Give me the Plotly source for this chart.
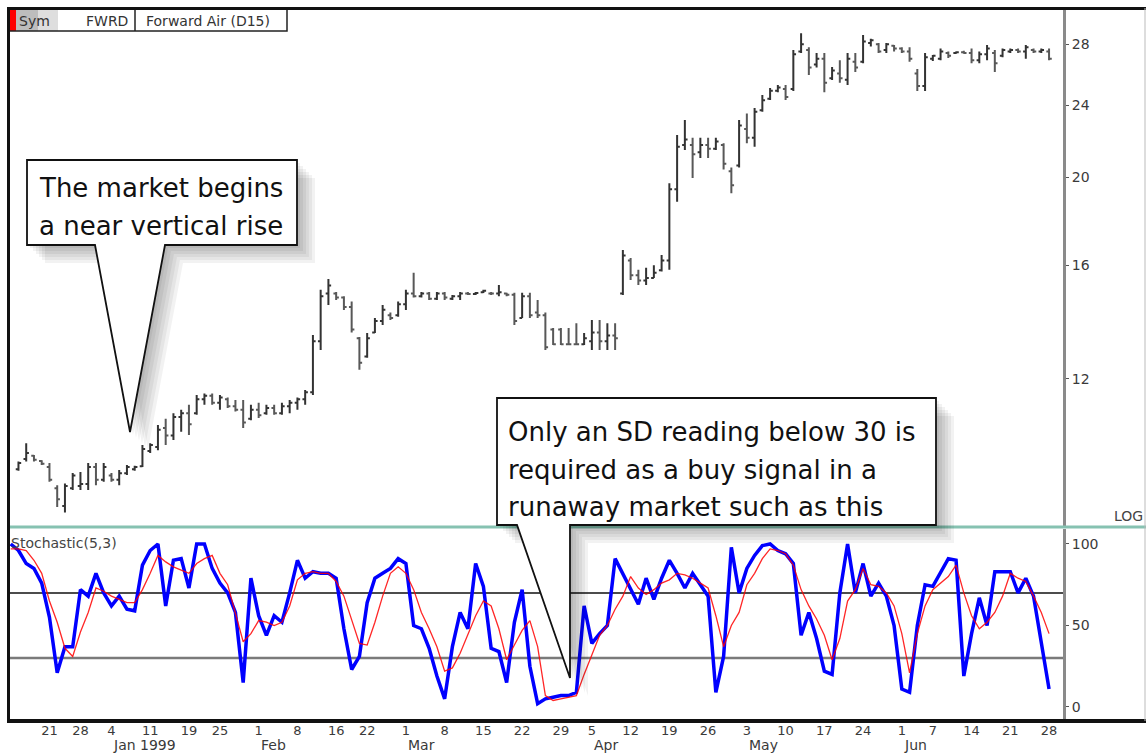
import math
import plotly.graph_objects as go

W, H = 1146, 753

# trading-day index (0 = Mon 21 Dec 1998), holidays skipped
bar_day = list(range(-4, 130))
bar_open = [9.55, 9.80, 9.88, 9.75, 9.60, 9.10, 8.70, 9.10, 9.15, 9.20,
            9.60, 9.30, 9.40, 9.30, 9.45, 9.55, 9.62, 10.00, 10.10, 10.60,
            10.40, 10.90, 11.00, 11.00, 11.40, 11.50, 11.30, 11.40, 11.20, 11.10,
            10.85, 11.10, 11.00, 11.15, 11.00, 11.20, 11.30, 11.40, 11.60, 13.20,
            14.90, 14.90, 14.75, 14.40, 13.30, 12.70, 13.50, 13.90, 14.10, 14.10,
            14.50, 14.90, 14.80, 14.90, 14.70, 14.90, 14.70, 14.80, 14.90, 14.88,
            14.95, 14.90, 14.90, 14.90, 14.85, 14.00, 14.80, 14.20, 14.10, 13.60,
            13.60, 13.10, 13.10, 13.10, 13.20, 13.50, 13.20, 13.40, 14.90, 16.20,
            15.60, 15.40, 15.50, 15.80, 16.20, 19.40, 21.70, 21.70, 21.30, 21.70,
            21.50, 21.70, 20.30, 20.60, 22.60, 22.10, 23.70, 24.40, 24.90, 25.00,
            25.00, 27.50, 27.60, 26.60, 27.00, 25.70, 26.00, 25.60, 26.80, 26.80,
            28.10, 28.00, 27.60, 27.90, 27.70, 27.50, 26.00, 25.20, 27.00, 27.00,
            27.40, 27.40, 27.45, 27.40, 26.90, 27.30, 27.40, 27.20, 27.50, 27.60,
            27.50, 27.60, 27.50, 27.50]
bar_high = [9.74, 10.20, 9.90, 9.77, 9.70, 9.17, 9.21, 9.46, 9.48, 9.70,
            9.70, 9.70, 9.46, 9.53, 9.65, 9.63, 10.15, 10.20, 10.68, 10.85,
            11.00, 11.10, 11.24, 11.52, 11.57, 11.57, 11.52, 11.45, 11.38, 11.38,
            11.24, 11.30, 11.24, 11.24, 11.30, 11.38, 11.45, 11.67, 13.41, 15.04,
            15.46, 14.96, 14.80, 14.60, 13.35, 13.48, 14.00, 14.47, 14.20, 14.60,
            15.04, 15.70, 14.96, 14.96, 14.96, 14.96, 14.84, 14.96, 14.96, 14.96,
            15.04, 14.96, 15.22, 14.93, 14.93, 14.93, 14.93, 14.66, 14.20, 13.65,
            13.65, 13.65, 13.82, 13.48, 13.93, 13.93, 13.82, 13.82, 16.64, 16.30,
            15.82, 15.90, 16.00, 16.43, 19.70, 22.26, 23.12, 22.10, 22.10, 22.10,
            22.10, 21.80, 20.50, 23.12, 23.50, 23.83, 24.63, 25.07, 25.26, 25.26,
            27.60, 28.80, 27.80, 27.40, 27.40, 26.44, 26.90, 27.40, 27.40, 28.67,
            28.40, 28.10, 28.10, 27.95, 27.80, 27.80, 26.30, 27.40, 27.25, 27.70,
            27.50, 27.50, 27.55, 27.70, 27.50, 27.95, 27.60, 27.70, 27.70, 27.70,
            27.95, 27.70, 27.70, 27.70]
bar_low = [9.51, 9.74, 9.74, 9.65, 9.25, 8.68, 8.56, 9.06, 9.06, 9.06,
           9.17, 9.25, 9.25, 9.17, 9.41, 9.51, 9.60, 9.95, 10.02, 10.15,
           10.28, 10.50, 10.41, 10.96, 11.24, 11.24, 11.10, 11.15, 11.05, 10.60,
           10.81, 10.87, 10.96, 10.96, 10.96, 11.00, 11.10, 11.24, 11.52, 12.91,
           14.47, 14.66, 14.29, 13.50, 12.28, 12.66, 13.48, 13.76, 13.93, 14.05,
           14.29, 14.75, 14.75, 14.66, 14.66, 14.66, 14.66, 14.66, 14.84, 14.84,
           14.92, 14.84, 14.80, 14.80, 13.76, 14.00, 14.00, 14.00, 12.91, 13.08,
           13.08, 13.08, 13.08, 13.08, 12.91, 12.91, 12.91, 12.91, 14.84, 15.42,
           15.22, 15.22, 15.50, 15.75, 15.82, 18.80, 21.43, 19.96, 21.00, 21.00,
           21.43, 20.40, 19.20, 20.50, 21.80, 21.60, 23.60, 24.32, 24.80, 24.32,
           24.88, 27.40, 25.91, 26.40, 24.80, 25.58, 25.40, 25.26, 26.10, 26.70,
           27.85, 27.40, 27.40, 27.50, 27.40, 26.80, 24.88, 24.88, 26.84, 26.90,
           27.05, 27.35, 27.35, 26.70, 26.70, 26.90, 26.10, 27.10, 27.40, 27.40,
           27.00, 27.40, 27.40, 26.90]
bar_close = [9.70, 9.95, 9.78, 9.68, 9.30, 8.85, 9.15, 9.40, 9.20, 9.60,
             9.30, 9.60, 9.30, 9.45, 9.60, 9.60, 10.05, 10.15, 10.55, 10.40,
             10.90, 11.00, 10.70, 11.40, 11.50, 11.30, 11.45, 11.20, 11.10, 10.75,
             11.10, 10.95, 11.15, 11.00, 11.20, 11.30, 11.40, 11.60, 13.20, 14.80,
             15.20, 14.75, 14.40, 13.60, 12.50, 13.30, 13.90, 14.30, 14.00, 14.50,
             14.90, 14.80, 14.90, 14.70, 14.90, 14.75, 14.80, 14.90, 14.88, 14.92,
             15.00, 14.90, 14.95, 14.85, 13.90, 14.80, 14.10, 14.10, 13.00, 13.10,
             13.10, 13.10, 13.10, 13.30, 13.50, 13.20, 13.40, 13.30, 16.40, 15.60,
             15.40, 15.50, 15.70, 16.20, 19.40, 21.60, 22.00, 21.20, 21.70, 21.50,
             21.90, 20.70, 19.60, 22.80, 22.10, 23.60, 24.30, 24.90, 25.10, 24.50,
             27.30, 28.00, 26.40, 27.00, 25.40, 26.20, 25.70, 27.00, 26.40, 28.20,
             28.30, 27.50, 28.00, 27.70, 27.50, 27.00, 25.20, 27.10, 27.20, 27.50,
             27.20, 27.45, 27.40, 26.90, 27.30, 27.70, 26.70, 27.60, 27.60, 27.50,
             27.80, 27.50, 27.60, 27.00]

stoch_day = list(range(-5, 130))
pct_k = [100, 96, 88, 85, 76, 55, 21, 37, 37, 72,
         68, 82, 70, 62, 68, 60, 59, 87, 96, 100,
         62, 90, 91, 73, 100, 100, 85, 76, 70, 58,
         15, 79, 56, 44, 56, 52, 70, 90, 79, 83,
         82, 82, 79, 48, 23, 31, 64, 79, 82, 85,
         91, 88, 50, 48, 36, 19, 5, 37, 58, 48,
         88, 74, 36, 34, 15, 52, 72, 25, 2, 5,
         6, 7, 7, 9, 62, 39, 45, 50, 91, 82,
         73, 63, 79, 66, 79, 90, 82, 73, 82, 75,
         68, 9, 31, 98, 70, 85, 93, 99, 100, 96,
         94, 88, 44, 58, 42, 22, 20, 70, 100, 70,
         88, 68, 76, 68, 50, 11, 9, 50, 75, 74,
         83, 91, 90, 19, 45, 67, 50, 83, 83, 83,
         70, 79, 68, 40, 11]
pct_d = [97, 97, 96, 90, 82, 65, 52, 36, 31, 46,
         58, 73, 71, 68, 66, 64, 64, 72, 82, 93,
         89, 86, 84, 82, 88, 91, 93, 82, 75, 58,
         40, 45, 53, 52, 50, 52, 62, 78, 82, 83,
         82, 82, 77, 68, 54, 39, 38, 52, 68, 82,
         86, 82, 72, 58, 48, 37, 22, 24, 33, 45,
         56, 65, 62, 48, 29, 38, 47, 53, 37, 7,
         4, 5, 6, 7, 20, 32, 44, 50, 60, 68,
         80, 73, 69, 72, 76, 78, 82, 81, 79, 76,
         73, 56, 37, 50, 58, 75, 82, 91, 97, 96,
         94, 87, 72, 62, 54, 44, 29, 42, 65, 72,
         85, 75, 74, 70, 62, 45, 21, 45, 62, 72,
         76, 80, 87, 70, 56, 48, 52, 58, 68, 82,
         79, 77, 68, 58, 45]

tick_day = [0, 4, 8, 13, 18, 22, 27, 32, 37, 41, 46, 51, 56, 61, 66,
            70, 75, 80, 85, 90, 95, 100, 105, 110, 114, 119, 124, 129]
tick_text = ['21', '28', '4', '11', '19', '25', '1', '8', '16', '22', '1', '8', '15', '22', '29',
             '5', '12', '19', '26', '3', '10', '17', '24', '1', '7', '14', '21', '28']
month_day = [8, 27, 46, 70, 90, 110]
month_text = ['Jan 1999', 'Feb', 'Mar', 'Apr', 'May', 'Jun']

price_ticks = [12, 16, 20, 24, 28]
stoch_ticks = [0, 50, 100]


def px(x):
    return x / W


def py(y):
    return 1 - y / H


def poly(points, dx=0, dy=0):
    return 'M ' + ' L '.join(f'{px(x + dx):.5f},{py(y + dy):.5f}' for x, y in points) + ' Z'


LABEL = '#3a3a3a'
SMALL = dict(family='DejaVu Sans', size=13, color=LABEL)
AXIS = dict(family='DejaVu Sans', size=14, color=LABEL)

fig = go.Figure()

fig.add_trace(go.Ohlc(x=bar_day, open=bar_open, high=bar_high, low=bar_low, close=bar_close,
                      xaxis='x', yaxis='y', tickwidth=0.35,
                      increasing=dict(line=dict(color='#333333', width=2)),
                      decreasing=dict(line=dict(color='#585858', width=2)),
                      showlegend=False))

fig.add_trace(go.Scatter(x=stoch_day, y=pct_k, mode='lines', xaxis='x2', yaxis='y2',
                         line=dict(color='#0000ff', width=3.5), showlegend=False))
fig.add_trace(go.Scatter(x=stoch_day, y=pct_d, mode='lines', xaxis='x2', yaxis='y2',
                         line=dict(color='rgba(255,0,0,0.85)', width=1.3), showlegend=False))

x_dom = [px(8), px(1063)]
x_rng = [-5.35, 130.8]

fig.update_layout(
    width=W, height=H,
    margin=dict(l=0, r=0, t=0, b=0),
    paper_bgcolor='white', plot_bgcolor='white',
    xaxis=dict(domain=x_dom, range=x_rng, anchor='y', showticklabels=False,
               showgrid=False, zeroline=False, rangeslider=dict(visible=False)),
    yaxis=dict(domain=[py(526), py(8)], type='log',
               range=[math.log10(8.27), math.log10(30.7)],
               side='right', tickvals=price_ticks, ticktext=[str(v) for v in price_ticks],
               showgrid=False, zeroline=False, showline=True, linecolor='#8a8a8a', linewidth=3,
               ticks='outside', ticklen=3, tickcolor='#555', tickfont=AXIS),
    xaxis2=dict(domain=x_dom, range=x_rng, anchor='y2', tickvals=tick_day, ticktext=tick_text,
                ticks='', showgrid=False, zeroline=False, tickfont=SMALL),
    yaxis2=dict(domain=[py(721), py(529)], range=[-8.6, 109.2], side='right',
                tickvals=stoch_ticks, showgrid=False, zeroline=False, showline=True,
                linecolor='#8a8a8a', linewidth=3, ticks='outside', ticklen=3, tickcolor='#555',
                tickfont=AXIS),
)

shapes = []
# stochastic reference levels
shapes.append(dict(type='line', xref='x2 domain', yref='y2', x0=0, x1=1, y0=70, y1=70,
                   line=dict(color='#111', width=1.5), layer='below'))
shapes.append(dict(type='line', xref='x2 domain', yref='y2', x0=0, x1=1, y0=30, y1=30,
                   line=dict(color='#7a7a7a', width=2.5), layer='below'))
# panel separator
shapes.append(dict(type='line', xref='paper', yref='paper', x0=px(7), x1=1, y0=py(527), y1=py(527),
                   line=dict(color='#86c2b1', width=3)))

callout1 = [(27, 160), (297, 160), (297, 245), (165, 245), (130, 432), (95, 245), (27, 245)]
callout2 = [(497, 398), (936, 398), (936, 525), (570, 525), (570, 678), (517, 525), (497, 525)]
for pts in (callout1, callout2):
    for k in range(6, 0, -1):
        shapes.append(dict(type='path', xref='paper', yref='paper', path=poly(pts, 3 * k, 3 * k),
                           fillcolor='rgba(0,0,0,0.05)', line=dict(width=0)))
for pts in (callout1, callout2):
    shapes.append(dict(type='path', xref='paper', yref='paper', path=poly(pts),
                       fillcolor='white', line=dict(color='#111', width=1.8)))

# header cells
shapes.append(dict(type='rect', xref='paper', yref='paper', x0=px(16), x1=px(38), y0=py(31), y1=py(10),
                   fillcolor='#bdbdbd', line=dict(width=0)))
shapes.append(dict(type='rect', xref='paper', yref='paper', x0=px(38), x1=px(58), y0=py(31), y1=py(10),
                   fillcolor='#dedede', line=dict(width=0)))
shapes.append(dict(type='rect', xref='paper', yref='paper', x0=px(8), x1=px(16), y0=py(31), y1=py(10),
                   fillcolor='#ff0000', line=dict(width=0)))
shapes.append(dict(type='rect', xref='paper', yref='paper', x0=px(8), x1=px(287), y0=py(31), y1=py(9),
                   line=dict(color='#222', width=1.5)))
shapes.append(dict(type='line', xref='paper', yref='paper', x0=px(135), x1=px(135), y0=py(31), y1=py(9),
                   line=dict(color='#222', width=1.5)))

# outer frame
shapes.append(dict(type='line', xref='paper', yref='paper', x0=px(7), x1=1, y0=py(8.5), y1=py(8.5),
                   line=dict(color='#111', width=3)))
shapes.append(dict(type='line', xref='paper', yref='paper', x0=px(8.5), x1=px(8.5), y0=py(721), y1=py(8),
                   line=dict(color='#111', width=3)))
shapes.append(dict(type='line', xref='paper', yref='paper', x0=px(7), x1=1, y0=py(721), y1=py(721),
                   line=dict(color='#111', width=4)))
shapes.append(dict(type='line', xref='paper', yref='paper', x0=px(1145), x1=px(1145), y0=py(721), y1=py(8),
                   line=dict(color='#bbbbbb', width=1)))

fig.update_layout(shapes=shapes)

ann = []
big = dict(family='DejaVu Sans', size=26, color='#111')
for text, y in [('The market begins', 188), ('a near vertical rise', 226)]:
    ann.append(dict(text=text, xref='paper', yref='paper', x=px(37), y=py(y),
                    xanchor='left', yanchor='middle', showarrow=False, font=big))
for text, y in [('Only an SD reading below 30 is', 432), ('required as a buy signal in a', 470),
                ('runaway market such as this', 507)]:
    ann.append(dict(text=text, xref='paper', yref='paper', x=px(506), y=py(y),
                    xanchor='left', yanchor='middle', showarrow=False, font=big))

hdr = dict(family='DejaVu Sans', size=14, color='#333')
ann.append(dict(text='Sym', xref='paper', yref='paper', x=px(17), y=py(21), xanchor='left',
                yanchor='middle', showarrow=False, font=hdr))
ann.append(dict(text='FWRD', xref='paper', yref='paper', x=px(130), y=py(21), xanchor='right',
                yanchor='middle', showarrow=False, font=hdr))
ann.append(dict(text='Forward Air (D15)', xref='paper', yref='paper', x=px(144), y=py(21), xanchor='left',
                yanchor='middle', showarrow=False, font=hdr))
ann.append(dict(text='Stochastic(5,3)', xref='paper', yref='paper', x=px(9), y=py(543), xanchor='left',
                yanchor='middle', showarrow=False, font=dict(family='DejaVu Sans', size=14, color='#444')))
ann.append(dict(text='LOG', xref='paper', yref='paper', x=px(1145), y=py(516), xanchor='right',
                yanchor='middle', showarrow=False, font=dict(family='DejaVu Sans', size=14, color='#444')))
for d, t in zip(month_day, month_text):
    ann.append(dict(text=t, xref='x2', yref='paper', x=d, y=py(745), xanchor='left', xshift=0,
                    yanchor='middle', showarrow=False, font=dict(family='DejaVu Sans', size=14, color=LABEL)))

fig.update_layout(annotations=ann)

# page body margin would push the fixed-size figure off the window
fig.write_html('out.html', config={'displayModeBar': False},
               post_script="document.body.style.margin='0';")
